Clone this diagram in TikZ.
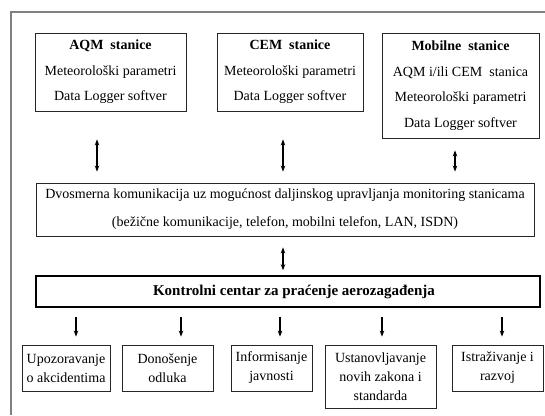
\documentclass[tikz,border=0pt]{standalone}
\usepackage{fontspec}
\setmainfont{Liberation Serif}
\usetikzlibrary{arrows.meta}
\begin{document}
\begin{tikzpicture}[x=1pt,y=-1pt,
  box/.style={draw=black!85, line width=0.8pt, inner sep=0pt, align=center, font=\fontsize{14}{25.5}\selectfont},
  sbox/.style={draw=black!85, line width=0.8pt, inner sep=0pt, align=center, font=\fontsize{14}{19}\selectfont},
  cbox/.style={draw=black, line width=1.5pt, inner sep=0pt, align=center, font=\fontsize{15}{18}\selectfont\bfseries},
  dbl/.style={line width=1.2pt, {Stealth[length=6pt,width=4.5pt]}-{Stealth[length=6pt,width=4.5pt]}},
  sgl/.style={line width=1.2pt, -{Stealth[length=6pt,width=4.5pt]}}]
\useasboundingbox (0,0) rectangle (545,415);
\fill[white] (0,0) rectangle (545,415);
\draw[black!50, line width=1.5pt] (11,415) |- (545,12);

\node[box, minimum width=151pt, minimum height=78pt] (aqm) at (110.5,72)
  {\textbf{AQM\ \ stanice}\\Meteorološki parametri\\Data Logger softver};
\node[box, minimum width=146pt, minimum height=78pt] (cem) at (290,72)
  {\textbf{CEM\ \ stanice}\\Meteorološki parametri\\Data Logger softver};
\node[box, minimum width=157pt, minimum height=105pt] (mob) at (460.5,85.5)
  {\textbf{Mobilne\ \ stanice}\\AQM i/ili CEM\ \ stanica\\Meteorološki parametri\\Data Logger softver};

\node[box, font=\fontsize{14}{28}\selectfont, minimum width=498pt, minimum height=53pt] (com) at (285,209.5)
  {Dvosmerna komunikacija uz mogućnost daljinskog upravljanja monitoring stanicama\\(bežične komunikacije, telefon, mobilni telefon, LAN, ISDN)};

\node[cbox, minimum width=504pt, minimum height=31pt] (ctr) at (288,291.5)
  {\hspace*{12pt}Kontrolni centar za praćenje aerozagađenja};

\node[sbox, minimum width=88pt, minimum height=46pt] (b1) at (66,368) {Upozoravanje\\o akcidentima};
\node[sbox, minimum width=91pt, minimum height=46pt] (b2) at (167.5,368) {Donošenje\\odluka};
\node[sbox, minimum width=81pt, minimum height=46pt] (b3) at (271.5,368) {Informisanje\\javnosti};
\node[sbox, minimum width=111pt, minimum height=63pt] (b4) at (380.5,376.5) {Ustanovljavanje\\novih zakona i\\standarda};
\node[sbox, minimum width=91pt, minimum height=46pt] (b5) at (497.5,368) {Istraživanje i\\razvoj};

\draw[dbl, shorten <=28pt, shorten >=11pt] ([xshift=-13.5pt]aqm.south) -- ([xshift=-13.5pt]aqm.south |- com.north);
\draw[dbl, shorten <=28pt, shorten >=11pt] ([xshift=-7pt]cem.south) -- ([xshift=-7pt]cem.south |- com.north);
\draw[dbl, shorten <=12pt, shorten >=11pt] ([xshift=-5.5pt]mob.south) -- ([xshift=-5.5pt]mob.south |- com.north);
\draw[dbl, shorten <=11pt, shorten >=5pt] ([xshift=-2pt]com.south) -- ([xshift=-2pt]com.south |- ctr.north);

\draw[sgl, shorten <=9pt, shorten >=8pt] ([xshift=10pt]b1.north |- ctr.south) -- ([xshift=10pt]b1.north);
\draw[sgl, shorten <=9pt, shorten >=8pt] ([xshift=13.5pt]b2.north |- ctr.south) -- ([xshift=13.5pt]b2.north);
\draw[sgl, shorten <=9pt, shorten >=8pt] ([xshift=8.5pt]b3.north |- ctr.south) -- ([xshift=8.5pt]b3.north);
\draw[sgl, shorten <=9pt, shorten >=8pt] ([xshift=1.5pt]b4.north |- ctr.south) -- ([xshift=1.5pt]b4.north);
\draw[sgl, shorten <=9pt, shorten >=8pt] ([xshift=4.5pt]b5.north |- ctr.south) -- ([xshift=4.5pt]b5.north);
\end{tikzpicture}
\end{document}
